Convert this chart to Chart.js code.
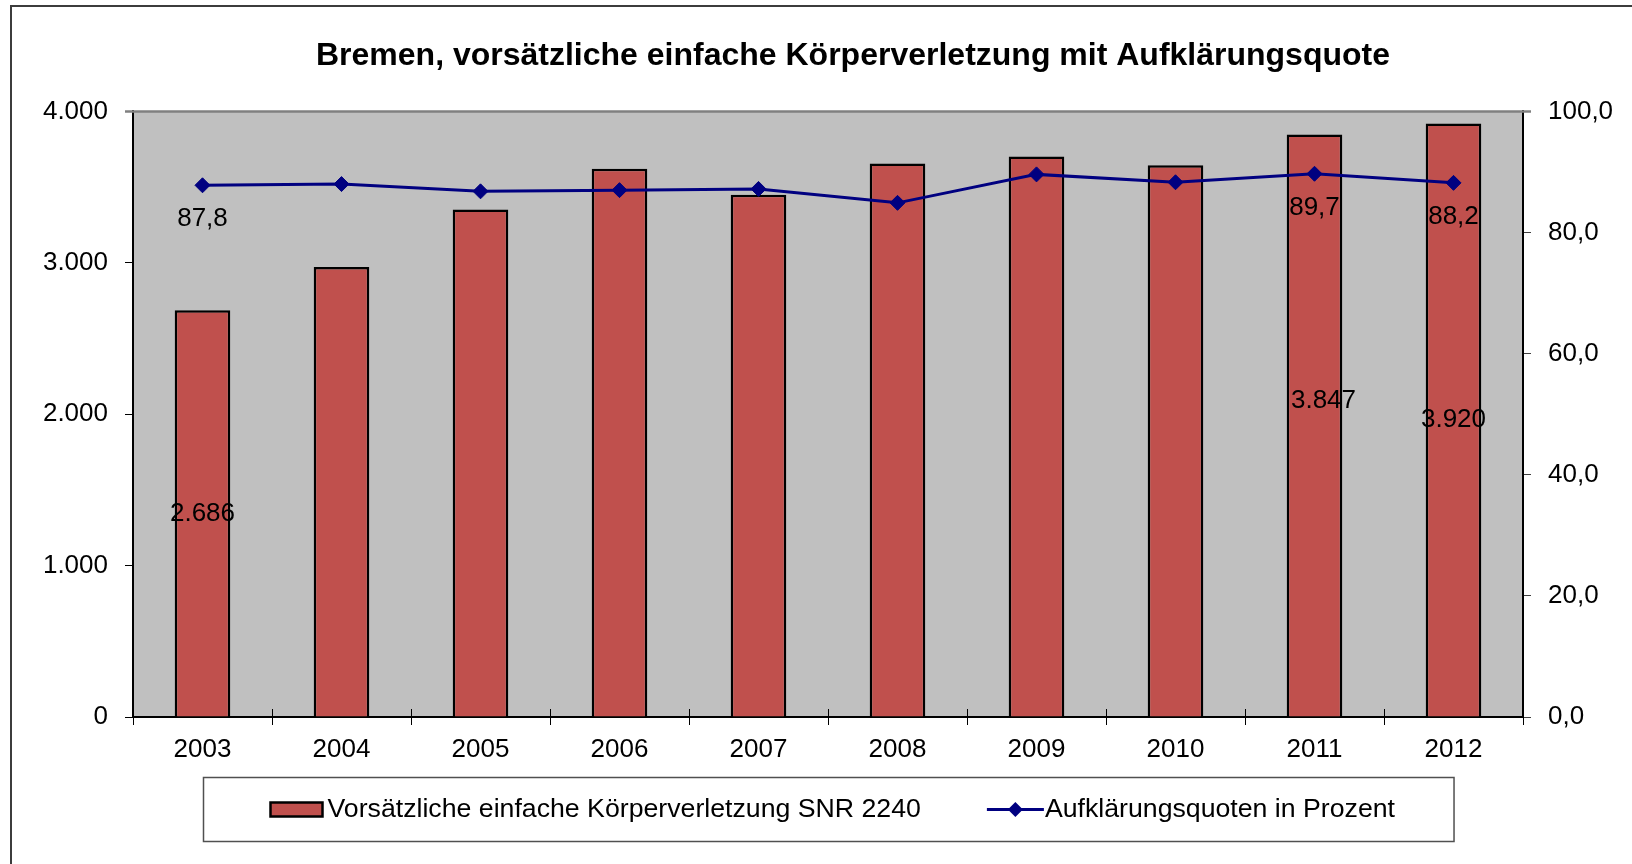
<!DOCTYPE html>
<html><head><meta charset="utf-8">
<script src="https://cdn.jsdelivr.net/npm/chart.js@4.4.0/dist/chart.umd.min.js"></script>
<style>
html,body{margin:0;padding:0;background:#fff;}
#wrap{position:relative;width:1632px;height:864px;overflow:hidden;}
#frame{position:absolute;left:10px;top:5px;right:-4px;bottom:-4px;border-top:2px solid #3c3c3c;border-left:2px solid #3c3c3c;pointer-events:none;}
canvas{display:block;}
</style></head><body>
<div id="wrap"><canvas id="c" width="1632" height="864"></canvas><div id="frame"></div></div>
<script>
const years = ['2003','2004','2005','2006','2007','2008','2009','2010','2011','2012'];
const cases = [2686, 2973, 3352, 3622, 3449, 3656, 3702, 3644, 3847, 3920];
const clearance = [87.8, 88.0, 86.8, 87.0, 87.2, 84.9, 89.6, 88.3, 89.7, 88.2];
const leftTicks = [0, 1000, 2000, 3000, 4000];
const rightTicks = [0, 20, 40, 60, 80, 100];
const labelledYears = ['2003', '2011', '2012'];
const seriesNames = ['Vorsätzliche einfache Körperverletzung SNR 2240', 'Aufklärungsquoten in Prozent'];
const titleText = 'Bremen, vorsätzliche einfache Körperverletzung mit Aufklärungsquote';

const FONT = '"Liberation Sans", Arial, Helvetica, sans-serif';
const BAR_COLOR = '#C0504D';
const LINE_COLOR = '#000080';
const barLabelShift = { '2011': [9, -25] };

function fmtThousands(n) { return String(Math.round(n)).replace(/\B(?=(\d{3})+(?!\d))/g, '.'); }
function fmtDecimal(v) { return Number(v).toFixed(1).replace('.', ','); }

const excelDecor = {
  id: 'excelDecor',
  beforeDraw(chart) {
    const { ctx, chartArea: a } = chart;
    ctx.save();
    ctx.fillStyle = '#C0C0C0';
    ctx.fillRect(a.left, a.top, a.right - a.left, a.bottom - a.top);
    ctx.restore();
  },
  beforeDatasetsDraw(chart) {
    const { ctx, chartArea: a } = chart;
    ctx.save();
    ctx.strokeStyle = '#808080';
    ctx.lineWidth = 2.5;
    ctx.beginPath();
    ctx.moveTo(a.left - 8, a.top);
    ctx.lineTo(a.right + 8, a.top);
    ctx.stroke();
    const xs = chart.scales.x;
    const half = (xs.getPixelForValue(1) - xs.getPixelForValue(0)) / 2;
    ctx.strokeStyle = '#000';
    ctx.lineWidth = 1;
    ctx.beginPath();
    for (let i = 0; i <= years.length; i++) {
      const px = Math.round(xs.getPixelForValue(i) - half) + 0.5;
      ctx.moveTo(px, a.bottom - 8);
      ctx.lineTo(px, a.bottom);
    }
    ctx.stroke();
    ctx.restore();
  },
  afterDatasetsDraw(chart) {
    const { ctx } = chart;
    const lineMeta = chart.getDatasetMeta(0);
    const barMeta = chart.getDatasetMeta(1);
    ctx.save();
    ctx.font = '26px ' + FONT;
    ctx.fillStyle = '#000';
    ctx.textAlign = 'center';
    ctx.textBaseline = 'middle';
    labelledYears.forEach(yr => {
      const i = years.indexOf(yr);
      const bar = barMeta.data[i];
      const sh = barLabelShift[yr] || [0, 0];
      ctx.fillText(fmtThousands(cases[i]), bar.x + sh[0], (bar.y + bar.base) / 2 + sh[1]);
      const pt = lineMeta.data[i];
      ctx.fillText(fmtDecimal(clearance[i]), pt.x, pt.y + 34);
    });
    ctx.restore();
  },
  afterDraw(chart) {
    const { ctx, chartArea: a } = chart;
    ctx.save();
    ctx.font = '26.7px ' + FONT;
    const w1 = ctx.measureText(seriesNames[0]).width;
    const w2 = ctx.measureText(seriesNames[1]).width;
    const padL = 67, sw1 = 52, g1 = 5, gap = 66, sw2 = 57, g2 = 1, padR = 59;
    const total = padL + sw1 + g1 + w1 + gap + sw2 + g2 + w2 + padR;
    const cx = (a.left + a.right) / 2;
    const left = Math.round(cx - total / 2) + 0.5;
    const top = Math.round(a.bottom + 60) + 0.5;
    const h = 64;
    const cy = top + h / 2;
    ctx.fillStyle = '#fff';
    ctx.fillRect(left, top, total, h);
    ctx.strokeStyle = '#505050';
    ctx.lineWidth = 1.5;
    ctx.strokeRect(left, top, total, h);
    let x = left + padL;
    ctx.fillStyle = BAR_COLOR;
    ctx.fillRect(x, cy - 7, sw1, 14);
    ctx.strokeStyle = '#000';
    ctx.lineWidth = 2.5;
    ctx.strokeRect(x, cy - 7, sw1, 14);
    x += sw1 + g1;
    ctx.fillStyle = '#000';
    ctx.textAlign = 'left';
    ctx.textBaseline = 'middle';
    ctx.fillText(seriesNames[0], x, cy);
    x += w1 + gap;
    ctx.strokeStyle = LINE_COLOR;
    ctx.lineWidth = 3;
    ctx.beginPath();
    ctx.moveTo(x, cy);
    ctx.lineTo(x + sw2, cy);
    ctx.stroke();
    const mx = x + sw2 / 2;
    ctx.fillStyle = LINE_COLOR;
    ctx.beginPath();
    ctx.moveTo(mx - 7.5, cy); ctx.lineTo(mx, cy - 7.5); ctx.lineTo(mx + 7.5, cy); ctx.lineTo(mx, cy + 7.5); ctx.closePath();
    ctx.fill();
    x += sw2 + g2;
    ctx.fillStyle = '#000';
    ctx.fillText(seriesNames[1], x, cy);
    ctx.restore();
  }
};

Chart.defaults.font.family = FONT;
Chart.defaults.color = '#000';

new Chart(document.getElementById('c'), {
  type: 'bar',
  data: {
    labels: years,
    datasets: [
      {
        type: 'line', label: seriesNames[1], data: clearance, yAxisID: 'y1',
        borderColor: LINE_COLOR, backgroundColor: LINE_COLOR, borderWidth: 3,
        pointStyle: 'rectRot', pointRadius: 7.5, pointBackgroundColor: LINE_COLOR,
        pointBorderColor: LINE_COLOR, pointBorderWidth: 1, tension: 0, order: 0
      },
      {
        type: 'bar', label: seriesNames[0], data: cases, yAxisID: 'y',
        backgroundColor: BAR_COLOR, borderColor: '#000', borderWidth: 2.5,
        barPercentage: 0.8, categoryPercentage: 0.5, order: 1
      }
    ]
  },
  options: {
    responsive: false,
    animation: false,
    devicePixelRatio: 1,
    layout: { padding: { left: 20, right: -54, top: 0, bottom: 107 } },
    plugins: {
      legend: { display: false },
      tooltip: { enabled: false },
      title: {
        display: true, text: titleText, color: '#000',
        font: { family: FONT, size: 32, weight: 'bold', lineHeight: 1.2 },
        padding: { top: 37, bottom: 36 }
      }
    },
    scales: {
      x: {
        offset: true,
        grid: { display: true, drawOnChartArea: false, drawTicks: true, tickLength: 8, color: '#000', lineWidth: 1, offset: true },
        border: { display: true, color: '#000', width: 2 },
        ticks: { color: '#000', font: { size: 26 }, padding: 9, maxRotation: 0, autoSkip: false },
        afterFit(s) { s.height = 40; }
      },
      y: {
        position: 'left', min: 0, max: 4000,
        afterBuildTicks(s) { s.ticks = leftTicks.map(v => ({ value: v })); },
        grid: { display: true, drawOnChartArea: false, drawTicks: true, tickLength: 8, color: '#000', lineWidth: 1 },
        border: { display: true, color: '#000', width: 2 },
        ticks: { color: '#000', font: { size: 26 }, padding: 17, callback: v => fmtThousands(v) },
        afterFit(s) { s.width = 113; }
      },
      y1: {
        position: 'right', min: 0, max: 100,
        afterBuildTicks(s) { s.ticks = rightTicks.map(v => ({ value: v })); },
        grid: { display: true, drawOnChartArea: false, drawTicks: true, tickLength: 8, color: '#404040', lineWidth: 1 },
        border: { display: true, color: '#000', width: 2 },
        ticks: { color: '#000', font: { size: 26 }, padding: 17, callback: v => fmtDecimal(v) },
        afterFit(s) { s.width = 163; }
      }
    }
  },
  plugins: [excelDecor]
});
</script>
</body></html>
